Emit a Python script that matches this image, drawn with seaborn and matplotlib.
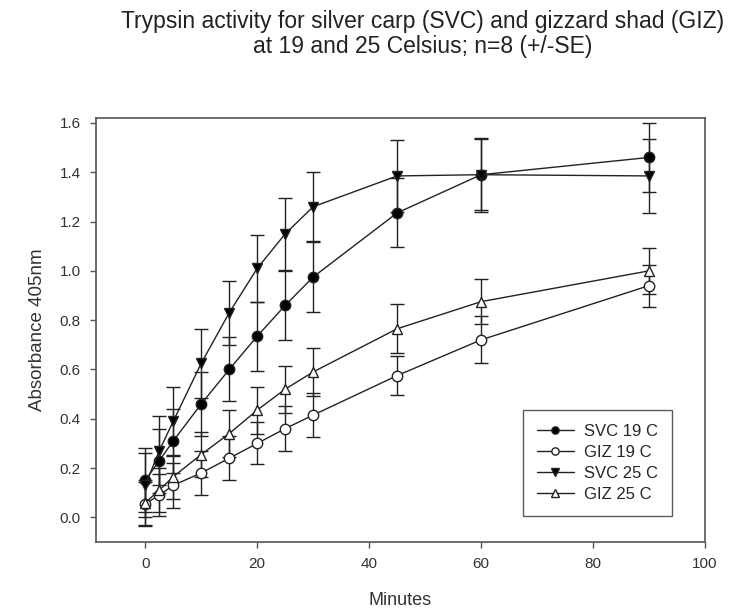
import numpy as np
import pandas as pd
import matplotlib
matplotlib.use("Agg")
import matplotlib.pyplot as plt
import seaborn as sns

minutes = [0, 2.5, 5, 10, 15, 20, 25, 30, 45, 60, 90]
svc19 = [0.15, 0.23, 0.31, 0.46, 0.60, 0.735, 0.86, 0.975, 1.235, 1.39, 1.46]
svc19_se = [0.13, 0.13, 0.13, 0.13, 0.13, 0.14, 0.14, 0.14, 0.14, 0.15, 0.14]
giz19 = [0.055, 0.09, 0.13, 0.18, 0.24, 0.30, 0.36, 0.415, 0.575, 0.72, 0.94]
giz19_se = [0.09, 0.085, 0.09, 0.09, 0.09, 0.085, 0.09, 0.09, 0.08, 0.095, 0.085]
svc25 = [0.13, 0.27, 0.39, 0.625, 0.83, 1.01, 1.15, 1.26, 1.385, 1.39, 1.385]
svc25_se = [0.13, 0.14, 0.14, 0.14, 0.13, 0.135, 0.145, 0.14, 0.147, 0.145, 0.15]
giz25 = [0.06, 0.11, 0.165, 0.255, 0.34, 0.435, 0.52, 0.59, 0.765, 0.875, 1.00]
giz25_se = [0.09, 0.09, 0.09, 0.09, 0.095, 0.095, 0.095, 0.097, 0.10, 0.09, 0.093]
labels = ["SVC 19 C", "GIZ 19 C", "SVC 25 C", "GIZ 25 C"]
title = "Trypsin activity for silver carp (SVC) and gizzard shad (GIZ)\nat 19 and 25 Celsius; n=8 (+/-SE)"
xticks = [0, 20, 40, 60, 80, 100]
yticks = [0.0, 0.2, 0.4, 0.6, 0.8, 1.0, 1.2, 1.4, 1.6]

sns.set_style("white")
plt.rcParams["font.family"] = ["Liberation Sans", "DejaVu Sans"]

series = [
    (labels[0], svc19, svc19_se, "o", "black"),
    (labels[1], giz19, giz19_se, "o", "white"),
    (labels[2], svc25, svc25_se, "v", "black"),
    (labels[3], giz25, giz25_se, "^", "white"),
]

fig = plt.figure(figsize=(7.46, 6.13), dpi=100)
ax = fig.add_axes([0.1287, 0.1158, 0.8163, 0.6917])
ink = "#222222"

for name, vals, se, mk, fc in series:
    df = pd.DataFrame({"Minutes": minutes, "Absorbance": vals})
    ax.errorbar(minutes, vals, yerr=se, fmt="none", ecolor=ink, elinewidth=1.0,
                capsize=4.8, capthick=1.0, zorder=2)
    sns.lineplot(data=df, x="Minutes", y="Absorbance", ax=ax, color=ink,
                 linewidth=1.0, marker=mk, markersize=7.5, markerfacecolor=fc,
                 markeredgecolor=ink, markeredgewidth=1.0, label=name, zorder=3)

ax.set_xlim(-8.8, 100)
ax.set_ylim(-0.10, 1.62)
ax.set_xticks(xticks)
ax.set_xticklabels([str(t) for t in xticks])
ax.set_yticks(yticks)
ax.set_yticklabels([f"{t:.1f}" for t in yticks])
ax.tick_params(axis="both", direction="out", length=4, width=1, color="#555555",
               labelsize=11, labelcolor="#333333", left=True, bottom=True, pad=7)
for sp in ax.spines.values():
    sp.set_color("#555555")
    sp.set_linewidth(1.2)
ax.set_xlabel("Minutes", fontsize=13, color="#333333", labelpad=15)
ax.set_ylabel("Absorbance 405nm", fontsize=13.5, color="#333333", labelpad=10)
fig.text(0.566, 0.945, title, ha="center", va="center", fontsize=16.5,
         color="#222222", linespacing=1.12)

leg = ax.legend(loc="upper left", bbox_to_anchor=(0.701, 0.331),
                bbox_transform=fig.transFigure, borderaxespad=0, frameon=True,
                fancybox=False, edgecolor="#333333", fontsize=12, handlelength=2.2,
                borderpad=0.85, labelspacing=0.36, handletextpad=0.6, markerscale=0.7)
leg.get_frame().set_linewidth(1.0)

fig.savefig("out.png", dpi=100, facecolor="white")
